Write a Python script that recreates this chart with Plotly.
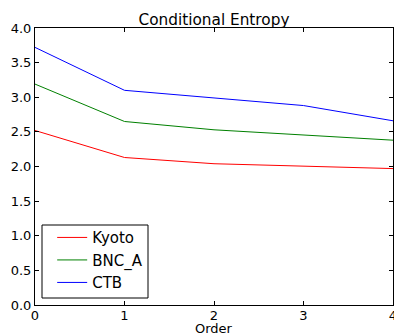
import plotly.graph_objects as go

orders = [0, 1, 2, 3, 4]
kyoto = [2.52, 2.13, 2.04, 2.00, 1.97]
bnc_a = [3.19, 2.65, 2.53, 2.46, 2.38]
ctb = [3.72, 3.10, 2.99, 2.88, 2.66]
y_ticks = [0, 0.5, 1, 1.5, 2, 2.5, 3, 3.5, 4]

series = [("Kyoto", kyoto, "#ff0000"), ("BNC_A", bnc_a, "#008000"), ("CTB", ctb, "#0000ff")]

fig = go.Figure()
for name, vals, col in series:
    fig.add_trace(go.Scatter(x=orders, y=vals, mode="lines", name=name,
                             line=dict(color=col, width=1)))

font = "DejaVu Sans, sans-serif"
axis_common = dict(showline=True, linecolor="#000", linewidth=1, mirror="allticks",
                   ticks="inside", ticklen=4, tickcolor="#000", showgrid=False,
                   zeroline=False, automargin=False,
                   tickfont=dict(family=font, size=13, color="#000"))
fig.update_layout(
    width=394, height=334,
    margin=dict(l=35, r=1, t=28, b=29),
    paper_bgcolor="white", plot_bgcolor="white",
    title=dict(text="Conditional Entropy", x=0.5, xref="paper", y=1 - 19.5 / 334,
               yref="container", yanchor="middle",
               font=dict(family=font, size=15.3, color="#000")),
    xaxis=dict(range=[0, 4], tickvals=orders, ticktext=[str(o) for o in orders],
               ticklabeloverflow="allow", ticklabelstandoff=-2,
               **axis_common),
    yaxis=dict(range=[0, 4], tickvals=y_ticks,
               ticktext=[f"{v:.1f}" for v in y_ticks],
               **axis_common),
    legend=dict(x=0.048, y=0.021, xanchor="left", yanchor="bottom",
                bgcolor="rgba(0,0,0,0)", borderwidth=0,
                font=dict(family=font, size=15, color="#000")),
    showlegend=True,
    shapes=[dict(type="rect", xref="paper", yref="paper",
                 x0=7 / 358, x1=113 / 358, y0=7 / 277, y1=80 / 277,
                 line=dict(color="#000", width=1), fillcolor="white", layer="above")],
    annotations=[dict(text="Order", x=0.5, xref="paper", y=0, yref="y domain",
                      yshift=-23, yanchor="middle",
                      showarrow=False, font=dict(family=font, size=13, color="#000"))],
)
fig.write_html("out.html", config={"displayModeBar": False},
               post_script="document.body.style.margin='0';document.body.style.overflow='hidden';")
